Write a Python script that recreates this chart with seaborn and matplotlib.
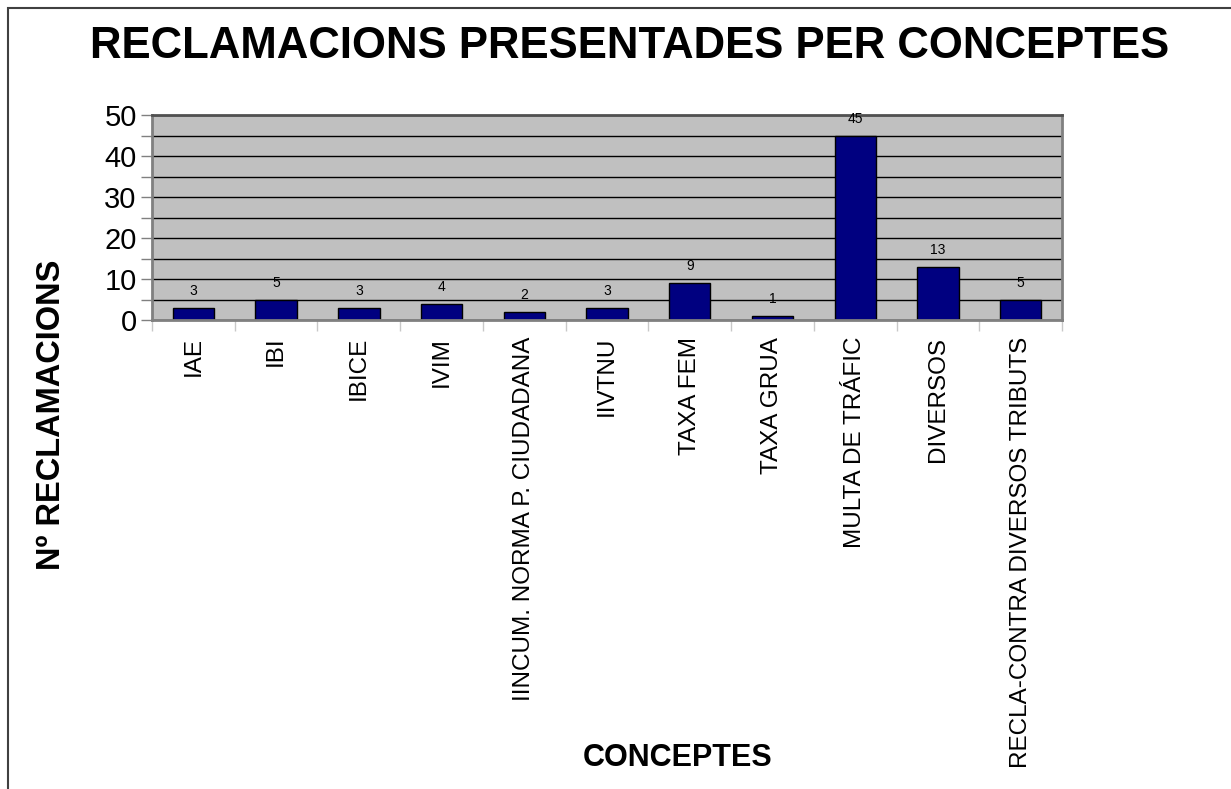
import matplotlib
matplotlib.use("Agg")
import matplotlib.pyplot as plt
import seaborn as sns
import pandas as pd
from matplotlib.patches import Rectangle

categories = ["IAE", "IBI", "IBICE", "IVIM", "IINCUM. NORMA P. CIUDADANA", "IIVTNU",
              "TAXA FEM", "TAXA GRUA", "MULTA DE TRÁFIC", "DIVERSOS",
              "RECLA-CONTRA DIVERSOS TRIBUTS"]
values = [3, 5, 3, 4, 2, 3, 9, 1, 45, 13, 5]
y_ticks = [0, 5, 10, 15, 20, 25, 30, 35, 40, 45, 50]
y_tick_labels = ["0", "", "10", "", "20", "", "30", "", "40", "", "50"]

sns.set_style("white")
plt.rcParams['font.family'] = ['Liberation Sans', 'DejaVu Sans']
plt.rcParams['text.color'] = 'black'
plt.rcParams['xtick.color'] = 'black'
plt.rcParams['ytick.color'] = 'black'

df = pd.DataFrame({"concepte": categories, "n": values})

fig = plt.figure(figsize=(12.31, 7.89), dpi=100)
ax = fig.add_axes([152/1231, 1-320/789, (1062-152)/1231, (320-115)/789])

sns.barplot(data=df, x="concepte", y="n", color="#000080", edgecolor="black",
            linewidth=1.0, width=0.5, saturation=1, ax=ax)

ax.set_facecolor("#C0C0C0")
ax.set_ylim(0, 50)
ax.set_xlim(-0.5, len(categories) - 0.5)
ax.set_yticks(y_ticks)
ax.set_yticklabels(y_tick_labels, fontsize=21)
ax.yaxis.grid(True, color="black", linewidth=1.0)
ax.set_axisbelow(True)
ax.tick_params(axis="y", length=8, width=1, color="#808080", labelcolor="black", pad=3, left=True)

ax.set_xticks([i + 0.5 for i in range(-1, len(categories))], minor=True)
ax.set_xticks(range(len(categories)))
ax.set_xticklabels(categories, rotation=90, fontsize=17.5, va="top", ha="center")
ax.tick_params(axis="x", which="major", length=0, pad=12, labelcolor="black")
ax.tick_params(axis="x", which="minor", length=8, width=1, color="#C8C8C8", bottom=True)

for s in ax.spines.values():
    s.set_color("#808080")
    s.set_linewidth(2)
ax.spines["top"].set_color("#505050")

ax.set_xlabel("")
ax.set_ylabel("")

for c in ax.containers:
    ax.bar_label(c, labels=[str(v) for v in values], padding=7, fontsize=10, color="black")

fig.text(630/1231, 1-47/789, "RECLAMACIONS PRESENTADES PER CONCEPTES",
         ha="center", va="center", fontsize=31.5, fontweight="bold", color="black")
fig.text(52/1231, 1-415/789, "Nº RECLAMACIONS", rotation=90,
         ha="center", va="center", fontsize=23.5, fontweight="bold", color="black")
fig.text(678/1231, 1-758/789, "CONCEPTES", ha="center", va="center",
         fontsize=22, fontweight="bold", color="black")

fig.patches.append(Rectangle((8/1231, -0.1), 1.2, 1.1 - 8/789,
                             transform=fig.transFigure, fill=False,
                             edgecolor="#404040", linewidth=1.5))

fig.savefig("out.png", dpi=100)
